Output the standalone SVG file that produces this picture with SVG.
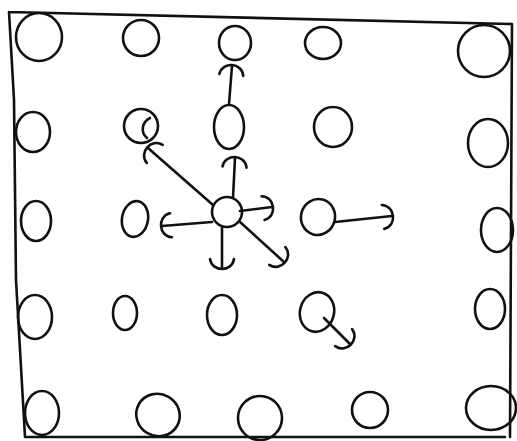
<svg xmlns="http://www.w3.org/2000/svg" width="517" height="441" viewBox="0 0 517 441">
<style>
.ink{fill:none;stroke:#111;stroke-width:2.6;stroke-linecap:round;stroke-linejoin:round}
.c{fill:none;stroke:#111;stroke-width:2.6}
</style>
<defs>
<marker id="hook" markerUnits="userSpaceOnUse" markerWidth="34" markerHeight="34" viewBox="-17 -17 34 34" refX="0" refY="0" orient="auto" overflow="visible">
<path d="M-9,-12 C-2,-11 1,-5 1,0 C1,5 -2,11 -9,12" fill="none" stroke="#111" stroke-width="2.6" stroke-linecap="round"/>
</marker>
</defs>
<rect width="517" height="441" fill="#fff"/>
<g id="frame">
<path class="ink" d="M9,12 L512,24 M512,24 L510,437 M9,12 L14,100 L16,280 L25,437 L505,437"/>
</g>
<g id="row1">
<ellipse id="n11" class="c" cx="39" cy="37" rx="23" ry="24"/>
<ellipse id="n12" class="c" cx="141" cy="38" rx="18" ry="18"/>
<ellipse id="n13" class="c" cx="235" cy="43" rx="16" ry="17"/>
<ellipse id="n14" class="c" cx="323" cy="43" rx="18" ry="16"/>
<ellipse id="n15" class="c" cx="484" cy="51" rx="26" ry="26"/>
</g>
<g id="row2">
<ellipse id="n21" class="c" cx="33" cy="132" rx="17" ry="20"/>
<g id="n22"><ellipse class="c" cx="141" cy="126" rx="17" ry="17"/><path class="ink" d="M150,118 C142,122 140,132 147,138"/></g>
<ellipse id="n23" class="c" cx="229" cy="127" rx="15" ry="22"/>
<ellipse id="n24" class="c" cx="333" cy="127" rx="19" ry="20"/>
<ellipse id="n25" class="c" cx="488" cy="143" rx="20" ry="24"/>
</g>
<g id="row3">
<ellipse id="n31" class="c" cx="36" cy="221" rx="15" ry="20"/>
<g id="n32"><ellipse class="c" cx="135" cy="219" rx="13" ry="18" transform="rotate(10 135 219)"/></g>
<ellipse id="n33" class="c" cx="227" cy="212" rx="15" ry="15"/>
<ellipse id="n34" class="c" cx="318" cy="217" rx="17" ry="18" transform="rotate(15 318 217)"/>
<ellipse id="n35" class="c" cx="497" cy="230" rx="16" ry="22"/>
</g>
<g id="row4">
<ellipse id="n41" class="c" cx="35" cy="317" rx="17" ry="22"/>
<ellipse id="n42" class="c" cx="125" cy="313" rx="12" ry="17"/>
<ellipse id="n43" class="c" cx="222" cy="315" rx="15" ry="20"/>
<ellipse id="n44" class="c" cx="317" cy="312" rx="17" ry="20" transform="rotate(15 317 312)"/>
<ellipse id="n45" class="c" cx="490" cy="309" rx="15" ry="20"/>
</g>
<g id="row5">
<ellipse id="n51" class="c" cx="42" cy="413" rx="17" ry="22"/>
<ellipse id="n52" class="c" cx="158" cy="415" rx="22" ry="21" transform="rotate(30 158 415)"/>
<ellipse id="n53" class="c" cx="260" cy="418" rx="22" ry="22"/>
<ellipse id="n54" class="c" cx="370" cy="410" rx="18" ry="18"/>
<ellipse id="n55" class="c" cx="491" cy="408" rx="25" ry="22"/>
</g>
<g id="connectors">
<path class="ink" marker-end="url(#hook)" d="M229,104 L232,66"/>
<path class="ink" marker-end="url(#hook)" d="M233,198 L235,158"/>
<path class="ink" marker-end="url(#hook)" d="M213,205 L148,148"/>
<path class="ink" marker-end="url(#hook)" d="M240,211 L272,207"/>
<path class="ink" marker-end="url(#hook)" d="M240,222 L284,262"/>
<path class="ink" marker-end="url(#hook)" d="M222,228 L222,268"/>
<path class="ink" marker-end="url(#hook)" d="M212,222 L162,226"/>
<path class="ink" marker-end="url(#hook)" d="M335,222 L392,216"/>
<path class="ink" marker-end="url(#hook)" d="M324,318 L350,344"/>
</g>
</svg>
